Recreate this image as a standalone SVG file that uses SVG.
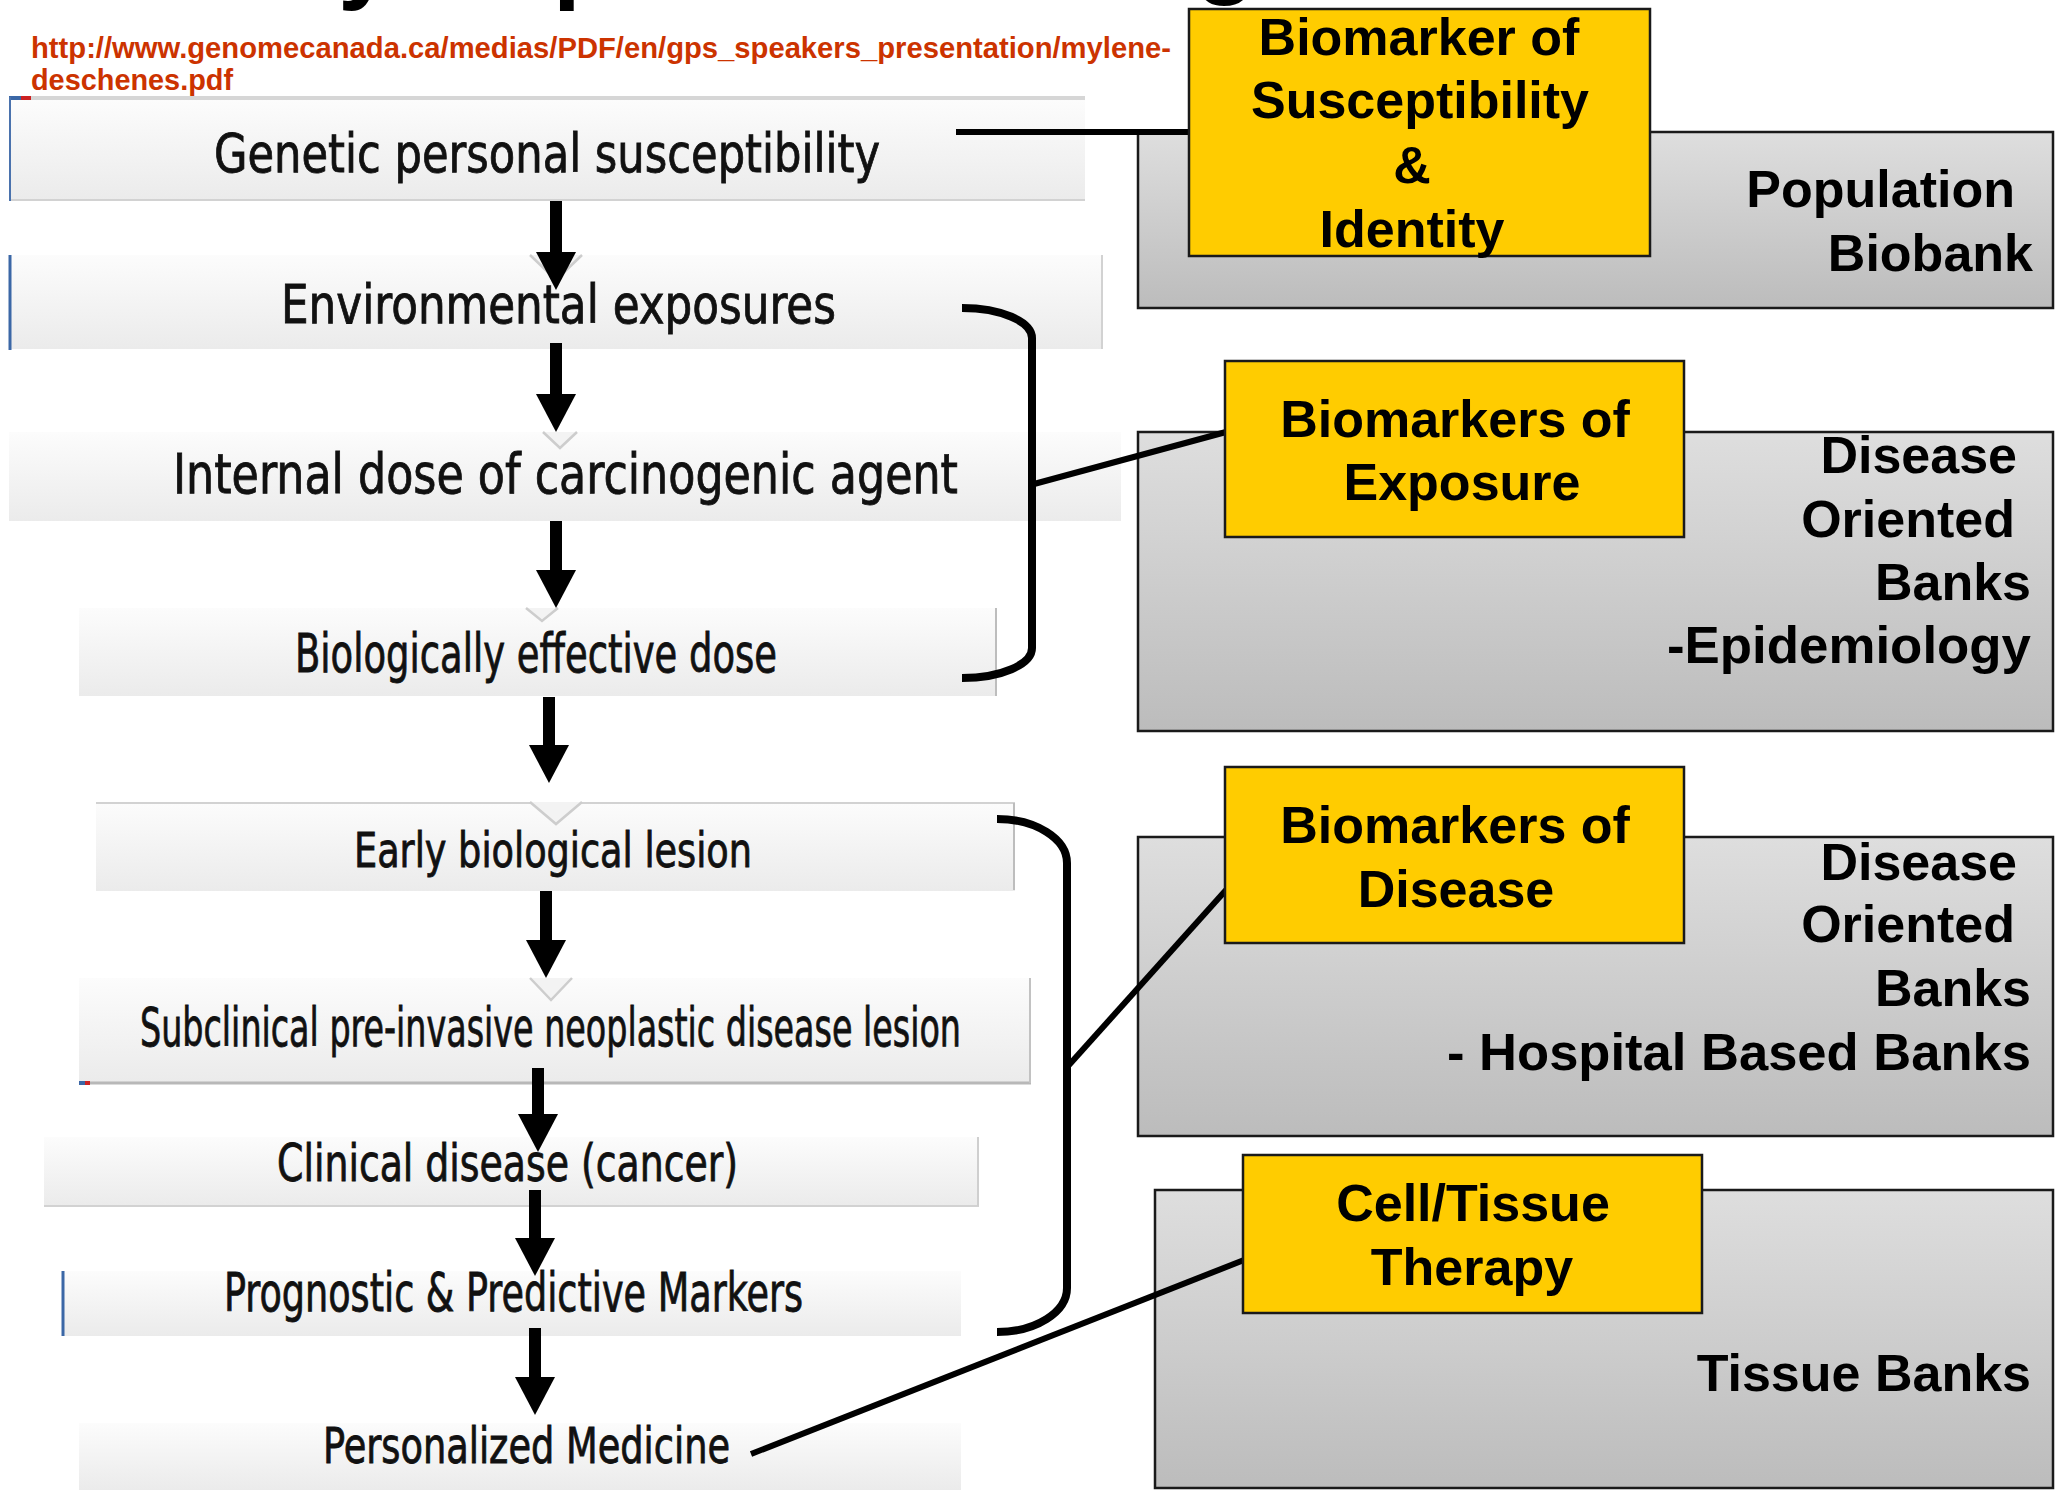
<svg xmlns="http://www.w3.org/2000/svg" width="2060" height="1490" viewBox="0 0 2060 1490">
<defs>
<linearGradient id="gLeft" x1="0" y1="0" x2="0" y2="1">
<stop offset="0" stop-color="#fcfcfc"/>
<stop offset="1" stop-color="#ebebeb"/>
</linearGradient>
<linearGradient id="gBank" x1="0" y1="0" x2="0" y2="1">
<stop offset="0" stop-color="#dedede"/>
<stop offset="1" stop-color="#bcbcbc"/>
</linearGradient>
<marker id="ah" markerUnits="userSpaceOnUse" viewBox="0 0 38 40" refX="0" refY="20" markerWidth="38" markerHeight="40" orient="auto">
<path d="M0,0 L38,20 L0,40 z" fill="#000"/>
</marker>
<clipPath id="page"><rect x="0" y="0" width="2060" height="1490"/></clipPath>
</defs>
<style>
.step{fill:url(#gLeft)}
.edge{stroke:#d2d2d2;stroke-width:2;fill:none}
.vnotch{fill:#f3f3f3;stroke:#cdcdcd;stroke-width:2.5}
.lt{font-family:"DejaVu Sans Condensed","DejaVu Sans",sans-serif;font-stretch:condensed;fill:#111;stroke:#111;stroke-width:0.8}
.bank{fill:url(#gBank);stroke:#1a1a1a;stroke-width:2.5}
.bm{fill:#ffcc00;stroke:#1a1a1a;stroke-width:2.5}
.rt{font-family:"Liberation Sans",Arial,sans-serif;font-weight:bold;font-size:52px;fill:#000}
.url{font-family:"Liberation Sans",Arial,sans-serif;font-weight:bold;font-size:29px;fill:#cc3300}
.title{font-family:"Liberation Sans",Arial,sans-serif;font-weight:bold;font-size:100px;fill:#000}
.arrow{stroke:#000;stroke-width:12;fill:none;marker-end:url(#ah)}
.link{stroke:#000;stroke-width:6;fill:none}
.brace{stroke:#000;stroke-width:8;fill:none}
</style>
<rect x="0" y="0" width="2060" height="1490" fill="#fff"/>

<g id="title-fragments" clip-path="url(#page)">
<text class="title" x="338" y="-10">y</text>
<text class="title" x="553" y="-10">p</text>
<text class="title" x="1195" y="-15">g</text>
</g>

<g id="source-url">
<text class="url" x="31" y="58" textLength="1140" lengthAdjust="spacingAndGlyphs">http://www.genomecanada.ca/medias/PDF/en/gps_speakers_presentation/mylene-</text>
<text class="url" x="31" y="90" textLength="202" lengthAdjust="spacingAndGlyphs">deschenes.pdf</text>
</g>

<!-- left pathway steps -->
<g id="step-genetic">
<rect x="9" y="96" width="1076" height="4" fill="#d6d6d6"/>
<rect x="9" y="96" width="12" height="4" fill="#3b67a6"/>
<rect x="21" y="96" width="10" height="4" fill="#cc2222"/>
<rect class="step" x="9" y="100" width="1076" height="101"/>
<line class="edge" x1="9" y1="200" x2="1085" y2="200"/>
<line x1="10" y1="97" x2="10" y2="201" stroke="#4a72ad" stroke-width="2"/>
<text class="lt" x="214" y="172" font-size="54" textLength="666" lengthAdjust="spacingAndGlyphs">Genetic personal susceptibility</text>
</g>

<g id="step-environmental">
<rect class="step" x="9" y="255" width="1094" height="94"/>
<line class="edge" x1="1102" y1="255" x2="1102" y2="349"/>
<line x1="10" y1="255" x2="10" y2="350" stroke="#3b67a6" stroke-width="3"/>
<polyline class="vnotch" points="530,255 556,280 582,255"/>
<text class="lt" x="281" y="323" font-size="53" textLength="555" lengthAdjust="spacingAndGlyphs">Environmental exposures</text>
</g>

<g id="step-internal-dose">
<rect class="step" x="9" y="432" width="1112" height="89"/>
<polyline class="vnotch" points="543,432 560,448 577,432"/>
<text class="lt" x="173" y="493" font-size="55" textLength="785" lengthAdjust="spacingAndGlyphs">Internal dose of carcinogenic agent</text>
</g>

<g id="step-biologically-effective-dose">
<rect class="step" x="79" y="608" width="918" height="88"/>
<line x1="996" y1="608" x2="996" y2="696" stroke="#bdbdbd" stroke-width="2"/>
<polyline class="vnotch" points="526,608 542,621 558,608"/>
<text class="lt" x="295" y="672" font-size="53" textLength="482" lengthAdjust="spacingAndGlyphs">Biologically effective dose</text>
</g>

<g id="step-early-lesion">
<rect class="step" x="96" y="802" width="919" height="89"/>
<line class="edge" x1="96" y1="803" x2="1015" y2="803"/>
<line x1="1014" y1="803" x2="1014" y2="890" stroke="#bdbdbd" stroke-width="2"/>
<polyline class="vnotch" points="530,802 556,824 582,802"/>
<text class="lt" x="354" y="867" font-size="48" textLength="398" lengthAdjust="spacingAndGlyphs">Early biological lesion</text>
</g>

<g id="step-subclinical">
<rect class="step" x="79" y="978" width="952" height="105"/>
<line x1="79" y1="1083" x2="1031" y2="1083" stroke="#b8b8b8" stroke-width="3"/>
<line x1="1030" y1="978" x2="1030" y2="1083" stroke="#c2c2c2" stroke-width="2"/>
<rect x="79" y="1081" width="6" height="4" fill="#3b67a6"/>
<rect x="85" y="1081" width="5" height="4" fill="#cc2222"/>
<polyline class="vnotch" points="530,978 551,1000 572,978"/>
<text class="lt" x="140" y="1046" font-size="53" textLength="821" lengthAdjust="spacingAndGlyphs">Subclinical pre-invasive neoplastic disease lesion</text>
</g>

<g id="step-clinical">
<rect class="step" x="44" y="1137" width="935" height="69"/>
<line class="edge" x1="44" y1="1206" x2="979" y2="1206"/>
<line x1="978" y1="1137" x2="978" y2="1206" stroke="#cfcfcf" stroke-width="2"/>
<text class="lt" x="277" y="1181" font-size="52" textLength="461" lengthAdjust="spacingAndGlyphs">Clinical disease (cancer)</text>
</g>

<g id="step-prognostic">
<rect class="step" x="62" y="1271" width="899" height="65"/>
<line x1="63" y1="1271" x2="63" y2="1336" stroke="#3b67a6" stroke-width="3"/>
<text class="lt" x="224" y="1311" font-size="53" textLength="579" lengthAdjust="spacingAndGlyphs">Prognostic &amp; Predictive Markers</text>
</g>

<g id="step-personalized">
<rect class="step" x="79" y="1423" width="882" height="67"/>
<text class="lt" x="323" y="1463" font-size="50" textLength="407" lengthAdjust="spacingAndGlyphs">Personalized Medicine</text>
</g>

<!-- right side banks -->
<g id="bank-population">
<rect class="bank" x="1138" y="132" width="915" height="176"/>
<text class="rt" x="2015" y="207" text-anchor="end">Population</text>
<text class="rt" x="2033" y="271" text-anchor="end">Biobank</text>
</g>

<g id="bank-epidemiology">
<rect class="bank" x="1138" y="432" width="915" height="299"/>
<text class="rt" x="2017" y="473" text-anchor="end">Disease</text>
<text class="rt" x="2015" y="537" text-anchor="end">Oriented</text>
<text class="rt" x="2031" y="600" text-anchor="end">Banks</text>
<text class="rt" x="2031" y="663" text-anchor="end" textLength="364" lengthAdjust="spacingAndGlyphs">-Epidemiology</text>
</g>

<g id="bank-hospital">
<rect class="bank" x="1138" y="837" width="915" height="299"/>
<text class="rt" x="2017" y="880" text-anchor="end">Disease</text>
<text class="rt" x="2015" y="942" text-anchor="end">Oriented</text>
<text class="rt" x="2031" y="1006" text-anchor="end">Banks</text>
<text class="rt" x="2031" y="1070" text-anchor="end" textLength="584" lengthAdjust="spacingAndGlyphs">- Hospital Based Banks</text>
</g>

<g id="bank-tissue">
<rect class="bank" x="1155" y="1190" width="898" height="298"/>
<text class="rt" x="2031" y="1391" text-anchor="end">Tissue Banks</text>
</g>

<!-- connectors -->
<g id="connectors">
<path class="arrow" d="M556,201 V252"/>
<path class="arrow" d="M556,343 V394"/>
<path class="arrow" d="M556,521 V570"/>
<path class="arrow" d="M549,697 V745"/>
<path class="arrow" d="M546,891 V940"/>
<path class="arrow" d="M538,1068 V1114"/>
<path class="arrow" d="M535,1190 V1238"/>
<path class="arrow" d="M535,1328 V1377"/>
<path class="link" d="M956,132 H1190"/>
<path class="brace" d="M962,308 A70,30 0 0 1 1032,338 V648 A70,30 0 0 1 962,678"/>
<path class="link" d="M1034,484 L1226,432"/>
<path class="brace" d="M997,819 A70,44 0 0 1 1067,863 V1288 A70,44 0 0 1 997,1332"/>
<path class="link" d="M1069,1065 L1226,890"/>
<path class="link" d="M751,1454 L1244,1260"/>
</g>

<!-- biomarker boxes -->
<g id="biomarker-susceptibility">
<rect class="bm" x="1189" y="9" width="461" height="247"/>
<text class="rt" x="1419" y="55" text-anchor="middle">Biomarker of</text>
<text class="rt" x="1420" y="118" text-anchor="middle">Susceptibility</text>
<text class="rt" x="1412" y="183" text-anchor="middle">&amp;</text>
<text class="rt" x="1412" y="247" text-anchor="middle">Identity</text>
</g>

<g id="biomarker-exposure">
<rect class="bm" x="1225" y="361" width="459" height="176"/>
<text class="rt" x="1455" y="437" text-anchor="middle">Biomarkers of</text>
<text class="rt" x="1462" y="500" text-anchor="middle">Exposure</text>
</g>

<g id="biomarker-disease">
<rect class="bm" x="1225" y="767" width="459" height="176"/>
<text class="rt" x="1455" y="843" text-anchor="middle">Biomarkers of</text>
<text class="rt" x="1456" y="907" text-anchor="middle">Disease</text>
</g>

<g id="cell-tissue-therapy">
<rect class="bm" x="1243" y="1155" width="459" height="158"/>
<text class="rt" x="1473" y="1221" text-anchor="middle">Cell/Tissue</text>
<text class="rt" x="1472" y="1285" text-anchor="middle">Therapy</text>
</g>
</svg>
